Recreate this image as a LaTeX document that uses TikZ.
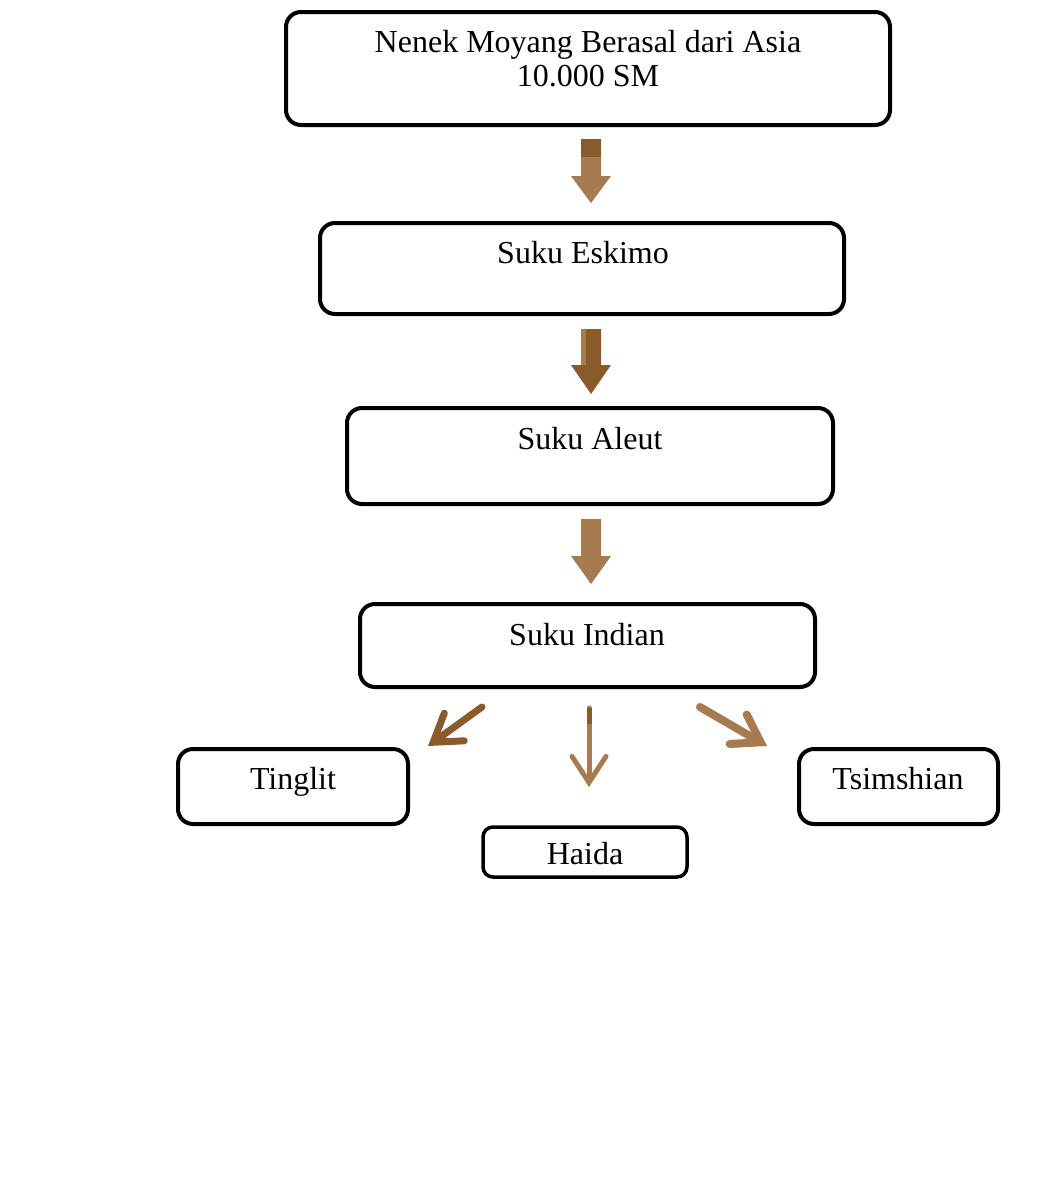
\documentclass[tikz,border=0pt]{standalone}
\usepackage{fontspec}
\setmainfont{Liberation Serif}
\usetikzlibrary{arrows.meta}
\definecolor{lbrown}{HTML}{A67B4F}
\definecolor{dbrown}{HTML}{8B5A2B}
\newcommand{\blockarr}[5]{% x, ytop, yhead, ytip, colour
  \fill[#5] (#1-10,#2) -- (#1+10,#2) -- (#1+10,#3) -- (#1+20,#3) -- (#1,#4) -- (#1-20,#3) -- (#1-10,#3) -- cycle;}
\begin{document}
\begin{tikzpicture}[x=1pt,y=-1pt,
  box/.style={draw, line width=4pt, rounded corners=15pt, inner sep=0pt},
  lbl/.style={font=\fontsize{32}{34}\selectfont, anchor=base, inner sep=0pt},
  thinarr/.style={line cap=round, -{Straight Barb[length=26pt,width=34pt,line cap=round]}}]
\useasboundingbox (0,0) rectangle (1062,1186);
% boxes
\node[box, minimum width=604pt, minimum height=113pt] (top) at (588,68.5) {};
\node[box, minimum width=524pt, minimum height=91pt] (eskimo) at (582,268.5) {};
\node[box, minimum width=486pt, minimum height=96pt] (aleut) at (590,456) {};
\node[box, minimum width=455pt, minimum height=83pt] (indian) at (587.5,645.5) {};
\node[box, minimum width=230pt, minimum height=75pt] (tinglit) at (293,786.5) {};
\node[box, minimum width=199pt, minimum height=75pt] (tsim) at (898.5,786.5) {};
\node[box, line width=3.5pt, rounded corners=10pt, minimum width=204pt, minimum height=50pt] (haida) at (585,852) {};
% labels
\node[lbl] (topA) at (588,52) {Nenek Moyang Berasal dari Asia};
\node[lbl] (topB) at (588,86) {10.000 SM};
\node[lbl] (eskimoT) at (583,263) {Suku Eskimo};
\node[lbl] (aleutT) at (590,449) {Suku Aleut};
\node[lbl] (indianT) at (587,645) {Suku Indian};
\node[lbl] (tinglitT) at (293,789) {Tinglit};
\node[lbl] (tsimT) at (898,789) {Tsimshian};
\node[lbl] (haidaT) at (585,864) {Haida};
% block arrows
\blockarr{591}{139}{176}{203}{lbrown}
\fill[dbrown] (581,139) rectangle (601,157);
\blockarr{591}{329}{365}{394}{dbrown}
\fill[lbrown] (581,329) rectangle (586,365);
\blockarr{591}{519}{556}{584}{lbrown}
% thin arrows
\coordinate (la) at (482,707); \coordinate (lb) at (428,746);
\coordinate (ma) at (589,708); \coordinate (mb) at (589,787);
\coordinate (ra) at (700,707); \coordinate (rb) at (767,746);
\draw[thinarr, dbrown, line width=7pt] (la) -- (lb);
\draw[thinarr, lbrown, line width=5pt] (ma) -- (mb);
\draw[dbrown, line width=5pt] (ma) -- (589,724);
\draw[thinarr, lbrown, line width=8pt] (ra) -- (rb);
\end{tikzpicture}
\end{document}
